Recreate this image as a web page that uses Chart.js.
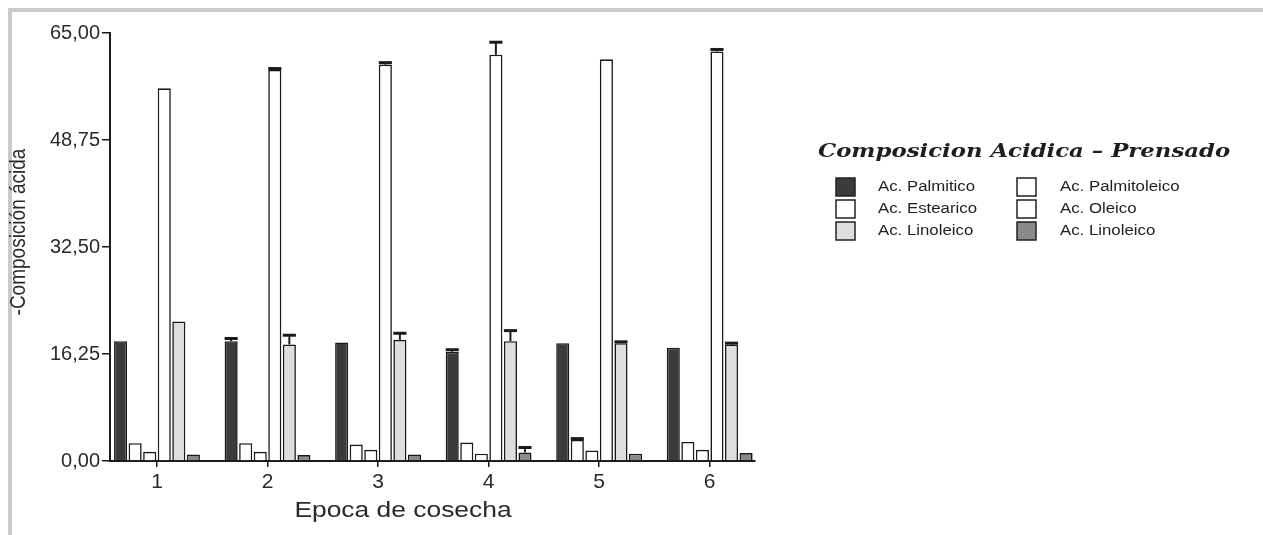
<!DOCTYPE html>
<html>
<head>
<meta charset="utf-8">
<script src="https://cdn.jsdelivr.net/npm/chart.js@4.4.1/dist/chart.umd.min.js"></script>
<style>
  html, body { margin: 0; padding: 0; background: #fff; }
  #wrap { position: relative; width: 1263px; height: 535px; overflow: hidden; }
  #frame { position: absolute; left: 8px; top: 8px; right: -10px; bottom: -10px;
           border-top: 4px solid #cacaca; border-left: 4px solid #cacaca; }
  canvas { position: absolute; left: 0; top: 0; }
</style>
</head>
<body>
<div id="wrap">
  <div id="frame"></div>
  <canvas id="chart" width="1263" height="535"></canvas>
</div>
<script>
// epocas de cosecha (eje x)
const epocas = [1, 2, 3, 4, 5, 6];
const yTicks = [0, 16.25, 32.5, 48.75, 65];

const nombres = ['Ac. Palmitico', 'Ac. Estearico', 'Ac. Palmitoleico', 'Ac. Oleico', 'Ac. Linoleico', 'Ac. Linoleico'];
const tituloX = 'Epoca de cosecha';
const tituloY = '-Composición ácida';
const tituloLeyenda = 'Composicion Acidica \u2013 Prensado';

// valores
const palmitico    = [18.2, 18.2, 18.0, 16.6, 17.9, 17.2];
const estearico    = [2.7, 2.7, 2.5, 2.8, 3.2, 2.9];
const palmitoleico = [1.4, 1.4, 1.7, 1.1, 1.6, 1.7];
const oleico       = [56.6, 59.4, 60.2, 61.7, 61.0, 62.2];
const linoleico    = [21.2, 17.7, 18.4, 18.2, 17.9, 17.7];
const linolenico   = [1.0, 0.9, 1.0, 1.3, 1.1, 1.2];

// barras de error (solo hacia arriba)
const errPalmitico    = [0, 0.4, 0, 0.3, 0, 0];
const errEstearico    = [0, 0, 0, 0, 0.2, 0];
const errPalmitoleico = [0, 0, 0, 0, 0, 0];
const errOleico       = [0, 0.2, 0.3, 1.9, 0, 0.3];
const errLinoleico    = [0, 1.4, 1.0, 1.6, 0.2, 0.2];
const errLinolenico   = [0, 0, 0, 0.75, 0, 0];

const series = [palmitico, estearico, palmitoleico, oleico, linoleico, linolenico];
const errores = [errPalmitico, errEstearico, errPalmitoleico, errOleico, errLinoleico, errLinolenico];
const rellenos = ['#3b3b3d', '#ffffff', '#ffffff', '#ffffff', '#dedede', '#8a8a8a'];

// orden de la leyenda: columna 1 y columna 2
const leyendaCol1 = [0, 1, 4];
const leyendaCol2 = [2, 3, 5];

const FONT = "'Liberation Sans', Arial, sans-serif";
const ESTIRA = 1.2; // el original esta algo estirado a lo ancho

function textoEstirado(ctx, txt, x, y) {
  ctx.save();
  ctx.translate(x, y);
  ctx.scale(ESTIRA, 1);
  ctx.fillText(txt, 0, 0);
  ctx.restore();
}

const errorBars = {
  id: 'errorBars',
  afterDatasetsDraw(chart) {
    const ctx = chart.ctx;
    const y = chart.scales.y;
    ctx.save();
    ctx.strokeStyle = '#1a1a1a';
    chart.data.datasets.forEach((ds, i) => {
      const meta = chart.getDatasetMeta(i);
      errores[i].forEach((e, j) => {
        if (!e) return;
        const bar = meta.data[j];
        const top = y.getPixelForValue(series[i][j] + e);
        ctx.lineWidth = 2;
        ctx.beginPath();
        ctx.moveTo(bar.x, bar.y);
        ctx.lineTo(bar.x, top);
        ctx.stroke();
        ctx.lineWidth = 3;
        ctx.beginPath();
        ctx.moveTo(bar.x - bar.width / 2, top);
        ctx.lineTo(bar.x + bar.width / 2, top);
        ctx.stroke();
      });
    });
    ctx.restore();
  }
};

// titulos de ejes y leyenda en dos columnas
const textos = {
  id: 'textos',
  afterDraw(chart) {
    const ctx = chart.ctx;
    ctx.save();
    ctx.fillStyle = '#2a2a2a';

    // eje x
    ctx.font = '22px ' + FONT;
    ctx.textBaseline = 'alphabetic';
    ctx.textAlign = 'center';
    textoEstirado(ctx, tituloX, 403, 517);

    // eje y (girado)
    ctx.save();
    ctx.translate(19, 232);
    ctx.rotate(-Math.PI / 2);
    ctx.scale(1, 1.15);
    ctx.font = '19px ' + FONT;
    ctx.textBaseline = 'middle';
    ctx.fillText(tituloY, 0, 0);
    ctx.restore();

    // leyenda
    ctx.textAlign = 'left';
    ctx.fillStyle = '#1e1e1e';
    ctx.font = "italic bold 19px 'DejaVu Serif', serif";
    ctx.textBaseline = 'alphabetic';
    textoEstirado(ctx, tituloLeyenda, 818, 157);

    ctx.font = '14px ' + FONT;
    ctx.textBaseline = 'middle';
    const filas = [187, 209, 231];
    [[leyendaCol1, 836, 878], [leyendaCol2, 1017, 1060]].forEach(([col, bx, tx]) => {
      col.forEach((k, r) => {
        const cy = filas[r];
        ctx.fillStyle = rellenos[k];
        ctx.fillRect(bx, cy - 9, 19, 18);
        ctx.strokeStyle = '#222';
        ctx.lineWidth = 1.5;
        ctx.strokeRect(bx, cy - 9, 19, 18);
        ctx.fillStyle = '#1e1e1e';
        textoEstirado(ctx, nombres[k], tx, cy);
      });
    });
    ctx.restore();
  }
};

new Chart(document.getElementById('chart'), {
  type: 'bar',
  data: {
    datasets: series.map((vals, i) => ({
      label: nombres[i],
      data: epocas.map((e, j) => ({ x: e, y: vals[j] })),
      backgroundColor: rellenos[i],
      borderColor: '#1a1a1a',
      borderWidth: 1.6,
      categoryPercentage: 0.79,
      barPercentage: 0.9
    }))
  },
  options: {
    responsive: false,
    animation: false,
    devicePixelRatio: 1,
    layout: { padding: { left: 0, right: 508, top: 33, bottom: 0 } },
    plugins: {
      legend: { display: false },
      tooltip: { enabled: false }
    },
    scales: {
      x: {
        type: 'linear',
        min: 0.575,
        max: 6.41,
        offset: false,
        afterBuildTicks: s => { s.ticks = epocas.map(v => ({ value: v })); },
        afterFit: s => { s.height = 74; },
        grid: { offset: false, drawOnChartArea: false, drawTicks: true, tickLength: 6, color: '#1a1a1a', lineWidth: 1.5 },
        border: { display: true, color: '#1a1a1a', width: 2 },
        ticks: { font: { family: FONT, size: 21 }, color: '#2a2a2a', padding: 3, callback: v => String(v) }
      },
      y: {
        min: 0,
        max: 65,
        afterBuildTicks: s => { s.ticks = yTicks.map(v => ({ value: v })); },
        afterFit: s => { s.width = 110; },
        grid: { drawOnChartArea: false, drawTicks: true, tickLength: 8, color: '#1a1a1a', lineWidth: 1.5 },
        border: { display: true, color: '#1a1a1a', width: 2 },
        ticks: { font: { family: FONT, size: 20 }, color: '#2a2a2a', padding: 2, callback: v => v.toFixed(2).replace('.', ',') }
      }
    }
  },
  plugins: [errorBars, textos]
});
</script>
</body>
</html>
